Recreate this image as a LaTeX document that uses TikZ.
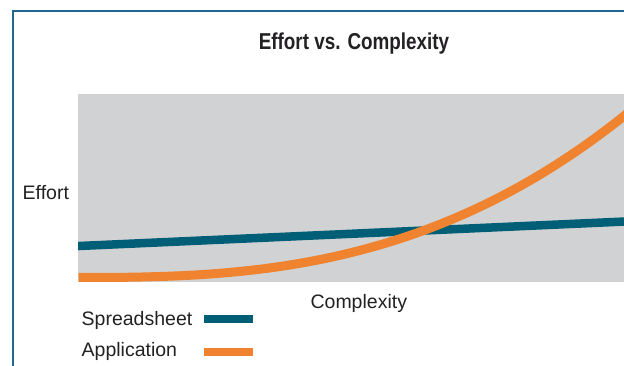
\documentclass[tikz,border=0pt]{standalone}
\usepackage{fontspec}
\setmainfont{Liberation Sans}
\usepackage{graphicx}
\definecolor{framecol}{RGB}{32,104,142}
\definecolor{plotgray}{RGB}{209,210,212}
\definecolor{tealline}{RGB}{0,94,118}
\definecolor{orangeline}{RGB}{240,131,47}
\definecolor{textcol}{RGB}{35,33,35}
\begin{document}
\begin{tikzpicture}[x=1pt,y=-1pt,
  lbl/.style={inner sep=0pt,text=textcol,font=\fontsize{19.5}{22}\selectfont},
  ttl/.style={inner sep=0pt,text=textcol,font=\fontsize{23}{25}\selectfont\bfseries},
  sheetline/.style={draw=tealline,line width=8.5pt},
  appline/.style={draw=orangeline,line width=9pt},
  legsheet/.style={draw=tealline,line width=7.5pt},
  legapp/.style={draw=orangeline,line width=7.5pt}]
\useasboundingbox (0,0) rectangle (624,366);
\fill[white] (0,0) rectangle (624,366);
% frame
\draw[framecol,line width=1.6pt] (12.7,366) -- (12.7,11.2) -- (624,11.2);
% plot area
\fill[plotgray] (78,94) rectangle (624,281.7);
\begin{scope}
\clip (78,94) rectangle (624,281.7);
\draw[sheetline] (70,246.4) -- (632,221.2);
\draw[appline] plot[domain=0.001:1.03,samples=120,variable=\t] ({78+546*\t},{277.5-161.5*(\t^2.7)});
\end{scope}
% labels
\node[ttl,anchor=base] (title) at (354,49.3) {\scalebox{0.82}[1]{Effort vs. Complexity}};
\node[lbl,anchor=base west] (effort) at (22.5,199.3) {Effort};
\node[lbl,anchor=base] (complexity) at (358.8,308.3) {Complexity};
\node[lbl,anchor=base west] (sheet) at (81.5,325) {Spreadsheet};
\node[lbl,anchor=base west] (app) at (81.5,356.7) {Application};
\coordinate (s1) at (204,319);
\coordinate (s2) at (252.7,319);
\coordinate (a1) at (204,352.2);
\coordinate (a2) at (252.7,352.2);
\draw[legsheet] (s1) -- (s2);
\draw[legapp] (a1) -- (a2);
\end{tikzpicture}
\end{document}
